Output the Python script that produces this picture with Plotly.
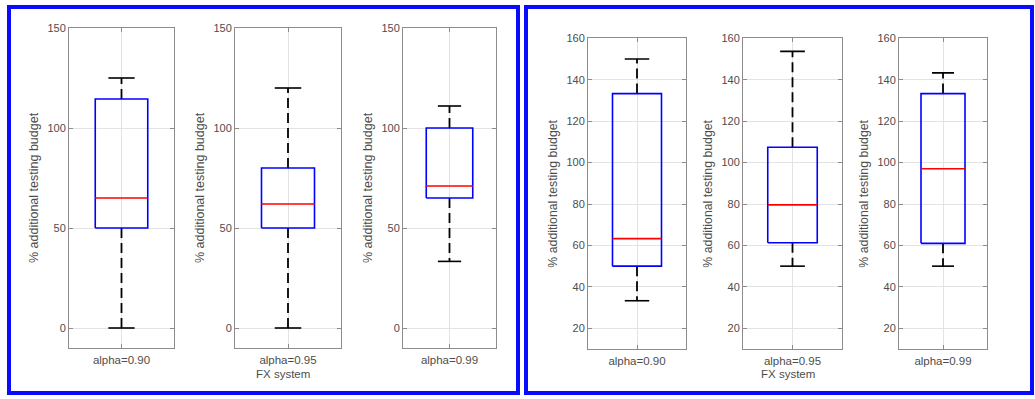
import plotly.graph_objects as go

# ---------------- data ----------------
categories = ["alpha=0.90", "alpha=0.95", "alpha=0.99"]
group_label = "FX system"
y_title = "% additional testing budget"

left_upper = [125, 120, 111]
left_q3 = [114.5, 80, 100]
left_median = [65, 62, 71]
left_q1 = [50, 50, 65]
left_lower = [0, 0, 33.3]

right_upper = [150, 153.7, 143.3]
right_q3 = [133.3, 107.4, 133.3]
right_median = [63.3, 79.6, 97]
right_q1 = [50, 61.3, 61]
right_lower = [33.3, 50, 50]

left_ticks = [0, 50, 100, 150]
right_ticks = [20, 40, 60, 80, 100, 120, 140, 160]
left_range = [-10, 150]
right_range = [10, 160]

# ---------------- layout constants (pixels) ----------------
W, H = 1035, 399
FONT = "Liberation Sans, Arial, Helvetica, sans-serif"
AX_COL = "#8c8c8c"
GRID_COL = "#e3e3e3"
TXT_COL = "#4d4d4d"
BOX_HALF = 0.25
CAP_HALF = 0.125

panels = [
    dict(xs=[(69, 174), (235, 341), (403, 496)], ytop=28, ybot=348,
         upper=left_upper, q3=left_q3, med=left_median, q1=left_q1, lower=left_lower,
         ticks=left_ticks, rng=left_range, tfs=12.5),
    dict(xs=[(588, 686), (743, 842), (899, 987)], ytop=38.3, ybot=349,
         upper=right_upper, q3=right_q3, med=right_median, q1=right_q1, lower=right_lower,
         ticks=right_ticks, rng=right_range, tfs=12.3),
]

fig = go.Figure()
layout = dict(
    width=W, height=H, margin=dict(l=0, r=0, t=0, b=0, autoexpand=False),
    paper_bgcolor="white", plot_bgcolor="white", showlegend=False,
    font=dict(family=FONT, size=11, color=TXT_COL),
)
annotations = []
shapes = []

k = 0
for p in panels:
    for i, (x0, x1) in enumerate(p["xs"]):
        k += 1
        xa = "x" if k == 1 else f"x{k}"
        ya = "y" if k == 1 else f"y{k}"
        xkey = "xaxis" if k == 1 else f"xaxis{k}"
        ykey = "yaxis" if k == 1 else f"yaxis{k}"
        layout[xkey] = dict(
            domain=[x0 / W, x1 / W], anchor=ya, range=[0.5, 1.5],
            tickvals=[1], ticktext=[categories[i]],
            showgrid=True, gridcolor=GRID_COL, gridwidth=1,
            showline=True, linecolor=AX_COL, linewidth=1, mirror="ticks",
            ticks="inside", ticklen=4, tickcolor=AX_COL, ticklabelstandoff=1,
            tickfont=dict(size=11.5, color=TXT_COL, family=FONT),
            zeroline=False, fixedrange=True,
        )
        layout[ykey] = dict(
            domain=[1 - p["ybot"] / H, 1 - p["ytop"] / H], anchor=xa,
            range=p["rng"], tickvals=p["ticks"],
            showgrid=True, gridcolor=GRID_COL, gridwidth=1,
            showline=True, linecolor=AX_COL, linewidth=1, mirror="ticks",
            ticks="inside", ticklen=4, tickcolor=AX_COL,
            tickfont=dict(size=11, color=TXT_COL, family=FONT),
            zeroline=False, fixedrange=True,
        )
        c = 1
        up, q3, md, q1, lo = p["upper"][i], p["q3"][i], p["med"][i], p["q1"][i], p["lower"][i]
        # whiskers (dashed black)
        fig.add_trace(go.Scatter(x=[c, c, None, c, c], y=[q3, up, None, q1, lo],
                                 mode="lines", xaxis=xa, yaxis=ya, hoverinfo="skip",
                                 line=dict(color="black", width=1.8, dash="10px,5px")))
        # caps
        fig.add_trace(go.Scatter(x=[c - CAP_HALF, c + CAP_HALF, None, c - CAP_HALF, c + CAP_HALF],
                                 y=[up, up, None, lo, lo], mode="lines", xaxis=xa, yaxis=ya,
                                 hoverinfo="skip", line=dict(color="black", width=1.6)))
        # box
        fig.add_trace(go.Scatter(x=[c - BOX_HALF, c + BOX_HALF, c + BOX_HALF, c - BOX_HALF, c - BOX_HALF],
                                 y=[q1, q1, q3, q3, q1], mode="lines", xaxis=xa, yaxis=ya,
                                 hoverinfo="skip", line=dict(color="#0000ff", width=1.6)))
        # median
        fig.add_trace(go.Scatter(x=[c - BOX_HALF, c + BOX_HALF], y=[md, md], mode="lines",
                                 xaxis=xa, yaxis=ya, hoverinfo="skip",
                                 line=dict(color="#ff0000", width=1.6)))
        # y title
        annotations.append(dict(
            text=y_title, xref="paper", yref="paper",
            x=(x0 - 35) / W, y=1 - (p["ytop"] + p["ybot"]) / 2 / H,
            xanchor="center", yanchor="middle", textangle=-90, showarrow=False,
            font=dict(size=p["tfs"], color=TXT_COL, family=FONT),
        ))
        if i == 1:
            annotations.append(dict(
                text=group_label, xref="paper", yref="paper",
                x=((x0 + x1) / 2 - 5) / W, y=1 - 374 / H,
                xanchor="center", yanchor="middle", showarrow=False,
                font=dict(size=11.5, color=TXT_COL, family=FONT),
            ))

# panel borders
for (bx0, bx1) in [(9, 518), (526, 1032)]:
    shapes.append(dict(type="rect", xref="paper", yref="paper",
                       x0=bx0 / W, x1=bx1 / W, y0=1 - 393 / H, y1=1 - 7 / H,
                       line=dict(color="#0a0aff", width=4), fillcolor="rgba(0,0,0,0)"))

layout["annotations"] = annotations
layout["shapes"] = shapes
fig.update_layout(**layout)
fig.write_html(
    "out.html",
    config={"displayModeBar": False, "staticPlot": True},
    post_script="document.body.style.margin='0';document.body.style.overflow='hidden';",
)
